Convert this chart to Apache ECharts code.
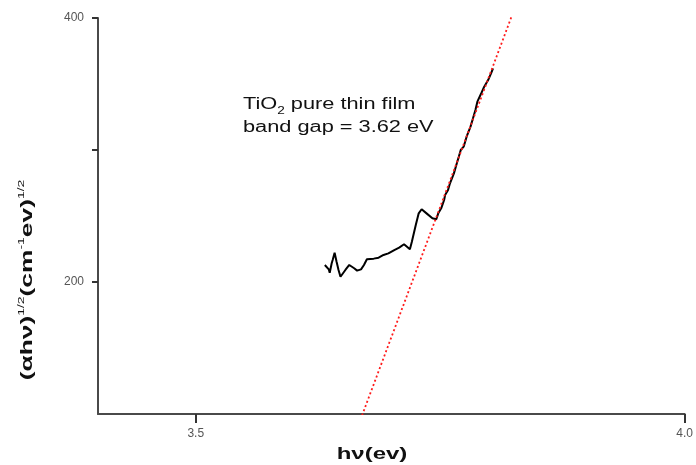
<!DOCTYPE html>
<html>
<head>
<meta charset="utf-8">
<script src="https://cdn.jsdelivr.net/npm/echarts@6/dist/echarts.min.js"></script>
<style>
  html, body { margin: 0; padding: 0; background: #fff; }
  #chart { width: 696px; height: 465px; }
</style>
</head>
<body>
<div id="chart"></div>
<script>
// measured spectrum, (hv in eV, (αhv)^1/2)
const hv = [3.632, 3.636, 3.637, 3.639, 3.640, 3.642, 3.644, 3.646, 3.648, 3.650,
  3.653, 3.657, 3.659, 3.662, 3.665, 3.669, 3.672, 3.675, 3.682, 3.687,
  3.692, 3.697, 3.703, 3.708, 3.713, 3.716, 3.719, 3.721, 3.725, 3.728,
  3.731, 3.736, 3.742, 3.746, 3.748, 3.751, 3.754, 3.755, 3.758, 3.760,
  3.764, 3.767, 3.769, 3.771, 3.774, 3.777, 3.781, 3.783, 3.786, 3.788,
  3.792, 3.795, 3.799, 3.802, 3.804]
const ahv = [212.9, 209.6, 207.0, 214.2, 216.7, 222.2, 215.4, 209.1, 204.0, 205.3,
  209.1, 212.9, 214.2, 210.4, 208.6, 209.6, 212.9, 217.2, 217.7, 218.4,
  220.5, 221.7, 224.2, 226.0, 228.6, 226.7, 224.8, 230.5, 243.2, 252.0,
  255.1, 252.0, 248.3, 247.5, 252.0, 255.8, 262.1, 265.9, 269.7, 274.8,
  282.3, 289.9, 294.9, 300.0, 302.5, 310.1, 317.7, 322.7, 330.3, 336.6,
  343.0, 348.0, 353.0, 358.1, 361.9]

// linear fit extrapolated to the axis -> band gap
const fitX = [3.62, 3.83]
const fitY = [0, 415]

const xTicks = [3.5, 4.0]
const yTicks = [200, 300, 400]
const yLabels = [200, 400]

const chart = echarts.init(document.getElementById('chart'))

chart.setOption({
  animation: false,
  grid: { left: 98, right: 9, top: 18, bottom: 51, containLabel: false },
  xAxis: {
    type: 'value',
    min: 3.4,
    max: 4.0,
    splitLine: { show: false },
    axisLine: { lineStyle: { color: '#4a4a4a', width: 2 } },
    axisTick: { customValues: xTicks, length: 9, lineStyle: { color: '#333', width: 2 } },
    axisLabel: {
      customValues: xTicks,
      margin: 14,
      color: '#555',
      fontSize: 12,
      fontFamily: 'Liberation Sans',
      formatter: v => v.toFixed(1)
    }
  },
  yAxis: {
    type: 'value',
    min: 100,
    max: 400,
    splitLine: { show: false },
    axisLine: { show: true, lineStyle: { color: '#4a4a4a', width: 2 } },
    axisTick: { show: true, customValues: yTicks, length: 6, lineStyle: { color: '#333', width: 2 } },
    axisLabel: {
      customValues: yLabels,
      margin: 14,
      color: '#555',
      fontSize: 12,
      fontFamily: 'Liberation Sans'
    }
  },
  graphic: [
    {
      type: 'text',
      x: 243,
      y: 93,
      scaleX: 1.36,
      style: {
        text: 'TiO{sub|2} pure thin film\nband gap = 3.62 eV',
        font: '16px "Liberation Sans"',
        fill: '#111',
        lineHeight: 23,
        rich: {
          sub: { fontSize: 10, verticalAlign: 'bottom', padding: [8, 0, 0, 0] }
        }
      }
    },
    {
      type: 'text',
      x: 372,
      y: 455,
      scaleX: 1.5,
      style: {
        text: 'hν(ev)',
        font: 'bold 16px "Liberation Sans"',
        fill: '#111',
        align: 'center',
        verticalAlign: 'middle'
      }
    },
    {
      type: 'text',
      x: 27,
      y: 280,
      rotation: Math.PI / 2,
      scaleX: 1.55,
      style: {
        text: '(αhν){sup|1/2}(cm{sup|-1}ev){sup|1/2}',
        font: 'bold 17px "Liberation Sans"',
        fill: '#111',
        align: 'center',
        verticalAlign: 'middle',
        rich: {
          sup: { fontSize: 9, fontWeight: 'normal', padding: [0, 0, 10, 0] }
        }
      }
    }
  ],
  series: [
    {
      type: 'line',
      data: hv.map((x, i) => [x, ahv[i]]),
      showSymbol: false,
      lineStyle: { color: '#000', width: 2 }
    },
    {
      type: 'line',
      data: fitX.map((x, i) => [x, fitY[i]]),
      showSymbol: false,
      clip: true,
      lineStyle: { color: '#ff1a1a', width: 1.8, type: [2, 2.5] }
    }
  ]
})
</script>
</body>
</html>
